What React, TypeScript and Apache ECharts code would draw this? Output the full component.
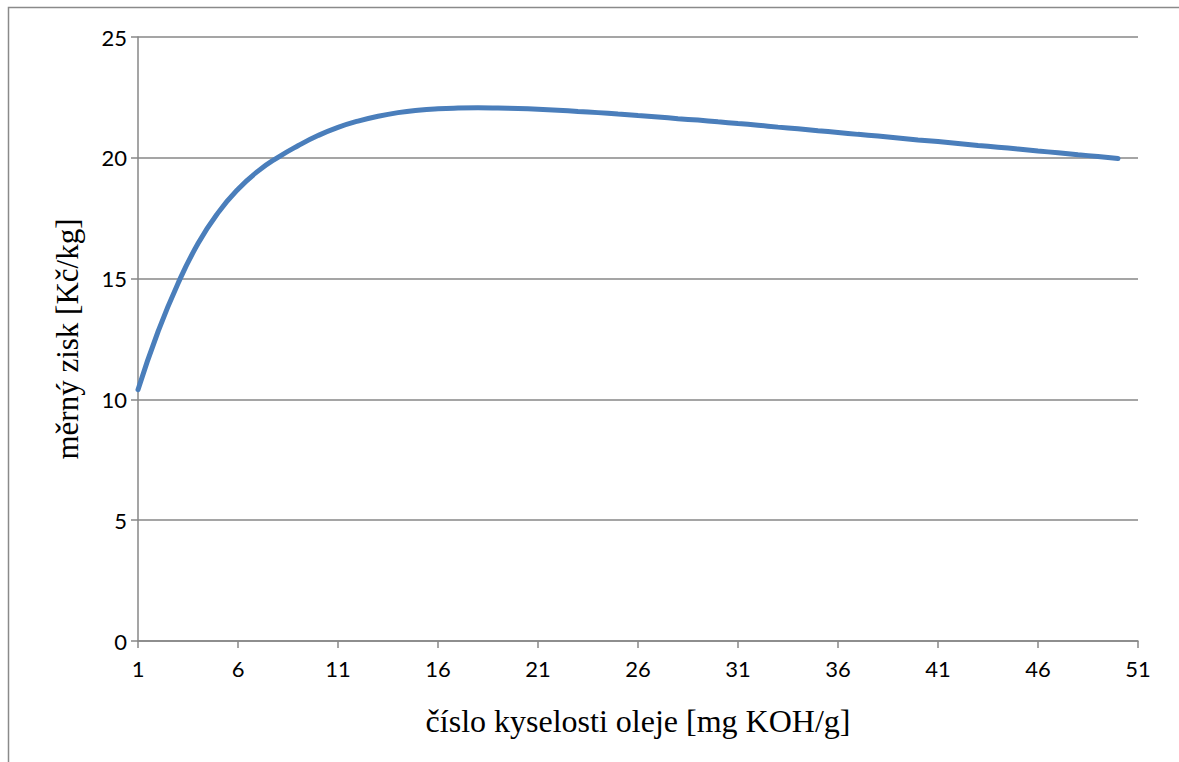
import React, { useEffect, useRef } from "react";
import * as echarts from "echarts";

const categories: string[] = [
  "1","2","3","4","5","6","7","8","9","10",
  "11","12","13","14","15","16","17","18","19","20",
  "21","22","23","24","25","26","27","28","29","30",
  "31","32","33","34","35","36","37","38","39","40",
  "41","42","43","44","45","46","47","48","49","50","51",
];

const profit: number[] = [
  10.4, 12.8, 14.8, 16.45, 17.72, 18.7, 19.45, 20.02, 20.5, 20.92,
  21.26, 21.52, 21.72, 21.87, 21.97, 22.03, 22.06, 22.07, 22.06, 22.04,
  22.01, 21.97, 21.92, 21.87, 21.81, 21.75, 21.69, 21.62, 21.56, 21.49,
  21.42, 21.35, 21.27, 21.2, 21.12, 21.05, 20.97, 20.9, 20.82, 20.74,
  20.67, 20.59, 20.51, 20.44, 20.36, 20.28, 20.21, 20.13, 20.05, 19.97,
];

const xTitle = "číslo kyselosti oleje [mg KOH/g]";
const yTitle = "měrný zisk [Kč/kg]";

export default function App() {
  const ref = useRef<HTMLDivElement>(null);
  useEffect(() => {
    if (!ref.current) return;
    const chart = echarts.init(ref.current, null, { renderer: "svg" });
    const gray = "#878787";
    chart.setOption({
      animation: false,
      backgroundColor: "#ffffff",
      graphic: [
        {
          type: "rect",
          shape: { x: 8.5, y: 7.5, width: 1300, height: 900 },
          style: { fill: "none", stroke: "#8a8a8a", lineWidth: 1.5 },
          silent: true,
        },
      ],
      grid: { left: 138, right: 41, top: 37, bottom: 121, containLabel: false },
      xAxis: {
        type: "category",
        data: categories,
        boundaryGap: false,
        name: xTitle,
        nameLocation: "middle",
        nameGap: 64,
        nameTextStyle: { fontFamily: "Liberation Serif", fontSize: 32, color: "#000" },
        axisLine: { show: true, lineStyle: { color: gray, width: 1.5 } },
        axisTick: { show: true, interval: 4, length: 7, lineStyle: { color: gray, width: 1.5 } },
        axisLabel: { interval: 4, margin: 16, fontFamily: "Lato", fontSize: 22, color: "#000" },
        splitLine: { show: false },
      },
      yAxis: {
        type: "value",
        min: 0,
        max: 25,
        interval: 5,
        name: yTitle,
        nameLocation: "middle",
        nameGap: 55,
        nameTextStyle: { fontFamily: "Liberation Serif", fontSize: 31, color: "#000" },
        axisLine: { show: true, lineStyle: { color: gray, width: 1.5 } },
        axisTick: { show: true, length: 7, lineStyle: { color: gray, width: 1.5 } },
        axisLabel: { margin: 11, fontFamily: "Lato", fontSize: 22, color: "#000" },
        splitLine: { show: true, lineStyle: { color: gray, width: 1.5 } },
      },
      series: [
        {
          type: "line",
          data: profit,
          smooth: true,
          showSymbol: false,
          lineStyle: { color: "#4a7ebb", width: 5, cap: "round" },
        },
      ],
    });
    return () => chart.dispose();
  }, []);
  return (
    <div
      ref={ref}
      style={{ position: "fixed", left: 0, top: 0, width: 1179, height: 762 }}
    />
  );
}
